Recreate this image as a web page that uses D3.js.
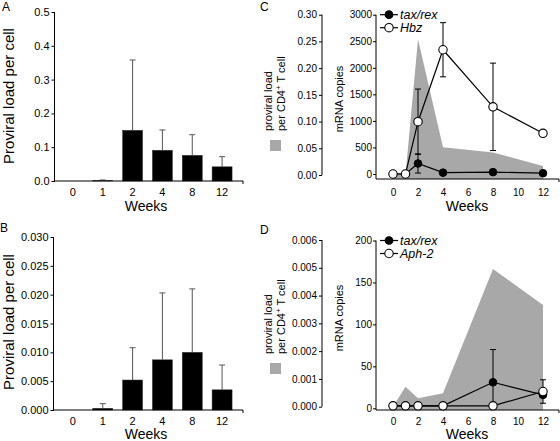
<!DOCTYPE html>
<html><head><meta charset="utf-8">
<script src="https://cdn.jsdelivr.net/npm/d3@7"></script>
<style>
body{margin:0;background:#fff}
svg{display:block}
text{font-family:"Liberation Sans",Arial,Helvetica,sans-serif;fill:#000}
</style>
</head><body>
<svg id="c" width="560" height="441"></svg>
<script>
// ---------- data ----------
const barWeeks = ["0", "1", "2", "4", "8", "12"];
const loadA = [0, 0.001, 0.150, 0.091, 0.076, 0.042];
const errTopA = [0, 0.003, 0.358, 0.151, 0.137, 0.072];
const loadB = [0, 0.0003, 0.0052, 0.0087, 0.0100, 0.0035];
const errTopB = [0, 0.0011, 0.0108, 0.0203, 0.0210, 0.0078];
const ticksA = [0, 0.1, 0.2, 0.3, 0.4, 0.5];
const ticksB = [0, 0.005, 0.010, 0.015, 0.020, 0.025, 0.030];

const weeks = [0, 1, 2, 4, 8, 12];
const weekTicks = [0, 2, 4, 6, 8, 10, 12];
const proviralC = [0, 0, 0.254, 0.052, 0.042, 0.017];
const taxC = [0, 0, 198, 25, 35, 15];
const taxErrC = [null, null, 180, null, null, null];
const hbzC = [0, 0, 985, 2340, 1265, 766];
const hbzErrC = [null, null, 615, 510, 823, null];
const provTicksC = [0, 0.05, 0.10, 0.15, 0.20, 0.25, 0.30];
const mrnaTicksC = [0, 500, 1000, 1500, 2000, 2500, 3000];

const proviralD = [0, 0.00072, 0.0003, 0.00048, 0.00496, 0.00366];
const taxD = [3, 3, 3, 3, 31, 16];
const taxErrD = [null, null, null, null, 39, null];
const aphD = [3, 3, 3, 3, 3, 20];
const aphErrD = [null, null, null, null, null, 14];
const provTicksD = [0, 0.001, 0.002, 0.003, 0.004, 0.005, 0.006];
const mrnaTicksD = [0, 50, 100, 150, 200];

// ---------- drawing ----------
const svg = d3.select("#c");

function styleAxis(sel, fs) {
  sel.select(".domain").remove();
  sel.selectAll(".tick line").attr("stroke", "#000").attr("stroke-width", 1);
  sel.selectAll(".tick text").attr("font-size", fs)
     .attr("font-family", '"Liberation Sans",Arial,sans-serif').attr("fill", "#000");
}

function barPanel(p, vals, tops, tickVals, fmt, letter) {
  const y = d3.scaleLinear().domain([0, tickVals[tickVals.length - 1]]).range([p.y0, p.y1]);
  const x = d3.scaleBand().domain(barWeeks).range([p.bx0, p.bx1])
    .paddingInner(0.33).paddingOuter(0.165);
  const g = svg.append("g");
  g.selectAll("rect.bar").data(vals).join("rect").attr("class", "bar")
    .attr("x", (d, i) => x(barWeeks[i])).attr("width", x.bandwidth())
    .attr("y", d => y(d)).attr("height", d => y(0) - y(d))
    .attr("fill", "#000").attr("stroke", "#333").attr("stroke-width", 0.5);
  const cx = i => x(barWeeks[i]) + x.bandwidth() / 2;
  g.selectAll("line.eb").data(tops).join("line").attr("class", "eb")
    .attr("x1", (d, i) => cx(i)).attr("x2", (d, i) => cx(i))
    .attr("y1", (d, i) => y(vals[i])).attr("y2", d => y(d))
    .attr("stroke", "#555").attr("stroke-width", 1);
  g.selectAll("line.cap").data(tops).join("line").attr("class", "cap")
    .attr("x1", (d, i) => cx(i) - 3).attr("x2", (d, i) => cx(i) + 3)
    .attr("y1", d => y(d)).attr("y2", d => y(d))
    .attr("stroke", "#555").attr("stroke-width", 1)
    .attr("display", (d, i) => i === 0 ? "none" : null);
  const ya = g.append("g").attr("transform", `translate(${p.ax},0)`)
    .call(d3.axisLeft(y).tickValues(tickVals).tickFormat(d3.format(fmt)).tickSize(3).tickPadding(2));
  styleAxis(ya, 11);
  g.append("line").attr("x1", p.ax).attr("x2", p.ax).attr("y1", p.y1).attr("y2", p.y0 + 1)
    .attr("stroke", "#000");
  const xa = g.append("g").attr("transform", `translate(0,${p.y0})`)
    .call(d3.axisBottom(x).tickSize(0).tickPadding(p.xpad));
  styleAxis(xa, 11);
  g.append("line").attr("x1", p.ax).attr("x2", p.axEnd).attr("y1", p.y0).attr("y2", p.y0).attr("stroke", "#000");
  g.append("line").attr("x1", p.axEnd).attr("x2", p.axEnd).attr("y1", p.y0).attr("y2", p.y0 + 3).attr("stroke", "#000");
  g.append("text").attr("transform", `translate(14,${p.ylabY}) rotate(-90)`)
    .attr("text-anchor", "middle").attr("font-size", 15).text("Proviral load per cell");
  g.append("text").attr("x", 146).attr("y", p.weeksY).attr("text-anchor", "middle")
    .attr("font-size", 14).text("Weeks");
  g.append("text").attr("x", p.letterX).attr("y", p.letterY).attr("font-size", 12).text(letter);
}

function pointPanel(p, prov, provTicks, provFmt, mrnaTicks, s1, e1, s2, e2, name2, letter) {
  const g = svg.append("g");
  const x = d3.scaleLinear().domain([0, 12]).range([393, 543]);
  const yp = d3.scaleLinear().domain([0, provTicks[provTicks.length - 1]]).range([p.pz, p.pt]);
  const ym = d3.scaleLinear().domain([0, mrnaTicks[mrnaTicks.length - 1]]).range([p.mz, p.mt]);

  const area = d3.area().x((d, i) => x(weeks[i])).y0(p.base).y1(d => yp(d));
  g.append("path").datum(prov).attr("d", area).attr("fill", "#a8a8a8");

  const la = g.append("g").attr("transform", "translate(322,0)")
    .call(d3.axisLeft(yp).tickValues(provTicks).tickFormat(d3.format(provFmt)).tickSize(3).tickPadding(2));
  styleAxis(la, 10);
  g.append("line").attr("x1", 322).attr("x2", 322).attr("y1", p.pt).attr("y2", p.pz).attr("stroke", "#000");

  const ra = g.append("g").attr("transform", "translate(376,0)")
    .call(d3.axisLeft(ym).tickValues(mrnaTicks).tickFormat(d3.format("d")).tickSize(3).tickPadding(1));
  styleAxis(ra, 10);
  g.append("line").attr("x1", 376).attr("x2", 376).attr("y1", p.mt).attr("y2", p.base).attr("stroke", "#000");

  const xa = g.append("g").attr("transform", `translate(0,${p.base})`)
    .call(d3.axisBottom(x).tickValues(weekTicks).tickSize(0).tickPadding(p.xpad));
  styleAxis(xa, 10);
  g.append("line").attr("x1", 376).attr("x2", 559).attr("y1", p.base).attr("y2", p.base).attr("stroke", "#000");
  g.append("line").attr("x1", 559).attr("x2", 559).attr("y1", p.base).attr("y2", p.base + 3).attr("stroke", "#000");

  const line = d3.line().x((d, i) => x(weeks[i])).y(d => ym(d));
  [s1, s2].forEach(s => g.append("path").datum(s).attr("d", line)
    .attr("fill", "none").attr("stroke", "#000").attr("stroke-width", 1.2));

  function errs(s, e) {
    s.forEach((v, i) => {
      if (e[i] == null) return;
      const cx = x(weeks[i]);
      const hi = v + e[i], lo = Math.max(0, v - e[i]);
      g.append("line").attr("x1", cx).attr("x2", cx).attr("y1", ym(hi)).attr("y2", ym(lo))
        .attr("stroke", "#000").attr("stroke-width", 1);
      [hi, lo].forEach(b => g.append("line").attr("x1", cx - 3).attr("x2", cx + 3)
        .attr("y1", ym(b)).attr("y2", ym(b)).attr("stroke", "#000").attr("stroke-width", 1));
    });
  }
  errs(s1, e1); errs(s2, e2);

  g.selectAll("circle.s1").data(s1).join("circle").attr("class", "s1")
    .attr("cx", (d, i) => x(weeks[i])).attr("cy", d => ym(d)).attr("r", 3.8)
    .attr("fill", "#000").attr("stroke", "#000");
  g.selectAll("circle.s2").data(s2).join("circle").attr("class", "s2")
    .attr("cx", (d, i) => x(weeks[i])).attr("cy", d => ym(d)).attr("r", 4.2)
    .attr("fill", "#fff").attr("stroke", "#000").attr("stroke-width", 1.1);

  const leg = [["tax/rex", true], [name2, false]];
  leg.forEach((L, k) => {
    const ly = p.mt + k * 13;
    g.append("line").attr("x1", 380).attr("x2", 398).attr("y1", ly).attr("y2", ly)
      .attr("stroke", "#000").attr("stroke-width", 1.2);
    g.append("circle").attr("cx", 389).attr("cy", ly).attr("r", L[1] ? 3.8 : 4.2)
      .attr("fill", L[1] ? "#000" : "#fff").attr("stroke", "#000").attr("stroke-width", 1.1);
    g.append("text").attr("x", 400).attr("y", ly + 4.5).attr("font-size", 12.5)
      .attr("font-style", "italic").text(L[0]);
  });

  g.append("text").attr("transform", `translate(343,${p.mLabY}) rotate(-90)`)
    .attr("text-anchor", "middle").attr("font-size", 11).text("mRNA copies");
  g.append("text").attr("transform", `translate(272,${p.provLabY}) rotate(-90)`)
    .attr("font-size", 11).text("proviral load");
  const t2 = g.append("text").attr("transform", `translate(285,${p.provLabY}) rotate(-90)`)
    .attr("font-size", 11);
  t2.append("tspan").text("per CD4");
  t2.append("tspan").attr("font-size", 8).attr("dy", -4).text("+");
  t2.append("tspan").attr("dy", 4).text(" T cell");
  g.append("rect").attr("x", 270).attr("y", p.sqY).attr("width", 11).attr("height", 11).attr("fill", "#a8a8a8");

  g.append("text").attr("x", 467).attr("y", p.weeksY).attr("text-anchor", "middle")
    .attr("font-size", 14).text("Weeks");
  g.append("text").attr("x", 260).attr("y", p.letterY).attr("font-size", 12).text(letter);
}

barPanel({y0: 181, y1: 12, bx0: 58, bx1: 237, ax: 54.5, axEnd: 243, xpad: 7.4,
          ylabY: 96, weeksY: 210.5, letterX: 2, letterY: 11}, loadA, errTopA, ticksA, ".1f", "A");
barPanel({y0: 410, y1: 237, bx0: 58, bx1: 237, ax: 53.5, axEnd: 243, xpad: 7,
          ylabY: 322, weeksY: 439.3, letterX: 0, letterY: 232}, loadB, errTopB, ticksB, ".3f", "B");

pointPanel({pz: 175, pt: 14.7, mz: 174, mt: 14.7, base: 179, xpad: 10, mLabY: 99,
            provLabY: 131, sqY: 140, weeksY: 210.5, letterY: 11},
           proviralC, provTicksC, ".2f", mrnaTicksC, taxC, taxErrC, hbzC, hbzErrC, "Hbz", "C");
pointPanel({pz: 406.7, pt: 240, mz: 408.3, mt: 240.5, base: 410, xpad: 7.6, mLabY: 318,
            provLabY: 354, sqY: 363, weeksY: 439, letterY: 234},
           proviralD, provTicksD, ".3f", mrnaTicksD, taxD, taxErrD, aphD, aphErrD, "Aph-2", "D");
</script>
</body></html>
